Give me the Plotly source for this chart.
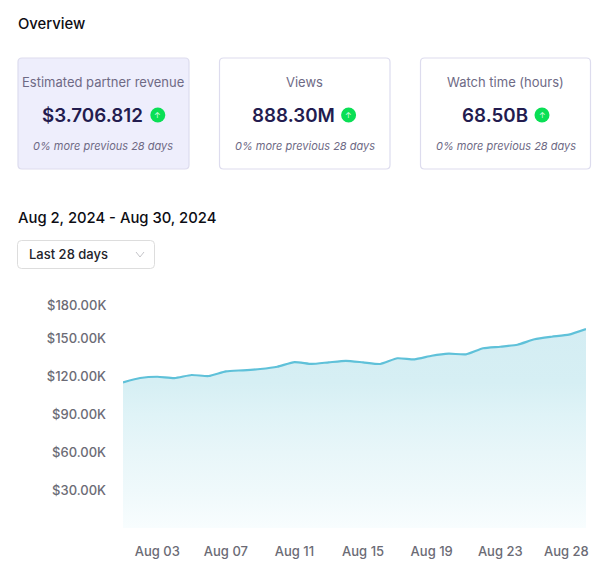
"""Overview dashboard: KPI cards above a revenue area chart."""

import plotly.graph_objects as go

WIDTH = 604
HEIGHT = 582
FONT = "Inter"

card_titles = ["Estimated partner revenue", "Views", "Watch time (hours)"]
card_values = ["$3.706.812", "888.30M", "68.50B"]
card_notes = ["0% more previous 28 days"] * 3

dates = [f"2024-08-{day:02d}" for day in range(1, 29)]
revenue = [
    115.0, 118.4, 119.4, 118.4, 120.8, 120.0, 123.7, 124.5, 125.5, 127.3,
    131.0, 129.5, 130.8, 132.0, 130.8, 129.5, 134.0, 133.2, 136.0, 137.6,
    137.1, 141.9, 143.1, 144.7, 149.0, 151.0, 152.7, 157.1,
]
y_ticks = [30, 60, 90, 120, 150]
y_labels = ["$30.00K", "$60.00K", "$90.00K", "$120.00K", "$150.00K"]
y_top_label = "$180.00K"
x_ticks = ["2024-08-03", "2024-08-07", "2024-08-11", "2024-08-15", "2024-08-19", "2024-08-23"]
x_labels = ["Aug 03", "Aug 07", "Aug 11", "Aug 15", "Aug 19", "Aug 23"]
x_last_label = "Aug 28"


def px(x):
    return x / WIDTH


def py(y):
    return 1 - y / HEIGHT


def rounded_rect(x0, y0, x1, y1, r=4):
    """SVG path of a rounded box, in paper coordinates."""
    rx, ry = r / WIDTH, r / HEIGHT
    l, r_, t, b = px(x0), px(x1), py(y0), py(y1)
    return (
        f"M {l + rx} {t} L {r_ - rx} {t} Q {r_} {t} {r_} {t - ry} "
        f"L {r_} {b + ry} Q {r_} {b} {r_ - rx} {b} "
        f"L {l + rx} {b} Q {l} {b} {l} {b + ry} "
        f"L {l} {t - ry} Q {l} {t} {l + rx} {t} Z"
    )


def add_text(fig, x, y, text, size, color, anchor="center", weight=400, style="normal"):
    fig.add_annotation(
        x=px(x), y=py(y), xref="paper", yref="paper", text=text, showarrow=False,
        xanchor=anchor, yanchor="middle", borderpad=0,
        font=dict(family=FONT, size=size, color=color, weight=weight, style=style),
    )


fig = go.Figure()

fig.add_trace(
    go.Scatter(
        x=dates,
        y=revenue,
        mode="lines",
        line=dict(color="#5fc1d9", width=2.2, shape="spline", smoothing=0.5),
        fill="tozeroy",
        fillgradient=dict(
            type="vertical",
            colorscale=[
                [0, "#f8fdfe"],
                [0.19, "#eff9fb"],
                [0.38, "#e8f6f9"],
                [0.57, "#dff3f7"],
                [0.73, "#d6eff4"],
                [1, "#d4edf3"],
            ],
        ),
        hoverinfo="skip",
    )
)

fig.update_layout(
    width=WIDTH,
    height=HEIGHT,
    margin=dict(l=0, r=0, t=0, b=0),
    paper_bgcolor="white",
    plot_bgcolor="white",
    showlegend=False,
    font=dict(family=FONT),
    xaxis=dict(
        domain=[px(123), px(586)],
        type="date",
        range=[dates[0], dates[-1]],
        tickmode="array",
        tickvals=x_ticks,
        ticktext=x_labels,
        showgrid=False,
        zeroline=False,
        showline=False,
        ticks="",
        ticklabelstandoff=14,
        automargin=False,
        tickfont=dict(family=FONT, size=13, color="#6b6b75", weight=500),
    ),
    yaxis=dict(
        domain=[py(528), py(300)],
        range=[0, 180],
        tickmode="array",
        tickvals=y_ticks,
        ticktext=y_labels,
        showgrid=False,
        zeroline=False,
        showline=False,
        ticks="",
        ticklabelstandoff=16,
        automargin=False,
        tickfont=dict(family=FONT, size=13, color="#6b6b75", weight=500),
    ),
)

# top y label and last x label get pushed inside the chart in the original
add_text(fig, 106.5, 305, y_top_label, 13, "#6b6b75", anchor="right", weight=500)
add_text(fig, 566, 550.5, x_last_label, 13, "#6b6b75", weight=500)

add_text(fig, 17, 24, "Overview", 14.8, "#0d0d14", anchor="left", weight=500)
add_text(fig, 17, 217.5, "Aug 2, 2024 - Aug 30, 2024", 14.8, "#0d0d14", anchor="left", weight=500)

# KPI cards
card_boxes = [(18, 189), (219.5, 390), (420.5, 590.5)]
circle_x = [157.8, 348.6, 542]
value_x = [92, 293, 495]
for i, (x0, x1) in enumerate(card_boxes):
    center = (x0 + x1) / 2
    fig.add_shape(
        type="path", path=rounded_rect(x0, 58, x1, 169), xref="paper", yref="paper",
        fillcolor="#eeeefc" if i == 0 else "white",
        line=dict(color="#dddcee", width=1.2),
    )
    add_text(fig, center, 82.5, card_titles[i], 13, "#6e6a85")
    add_text(fig, value_x[i], 115.5, card_values[i], 18.8, "#231c4f", weight=600)
    add_text(fig, center, 146, card_notes[i], 11, "#6e6a85", style="italic")
    fig.add_shape(
        type="circle", xref="paper", yref="paper",
        x0=px(circle_x[i] - 7.5), x1=px(circle_x[i] + 7.5),
        y0=py(122.5), y1=py(107.5),
        fillcolor="#0adf55", line=dict(width=0),
    )
    add_text(fig, circle_x[i], 115, "↑", 8, "#d8fbe4")

# date range dropdown
fig.add_shape(
    type="path", path=rounded_rect(17.5, 240.5, 154.5, 268.5), xref="paper", yref="paper",
    fillcolor="white", line=dict(color="#dddddd", width=1),
)
add_text(fig, 28, 253.5, "Last 28 days", 13, "#23232b", anchor="left", weight=500)
fig.add_shape(
    type="path", xref="paper", yref="paper",
    path=f"M {px(136)} {py(252)} L {px(140)} {py(257)} L {px(144)} {py(252)}",
    line=dict(color="#c4c4c8", width=1),
)

fig.write_html(
    "out.html",
    config={"displayModeBar": False},
    post_script="document.body.style.margin='0';",
)
